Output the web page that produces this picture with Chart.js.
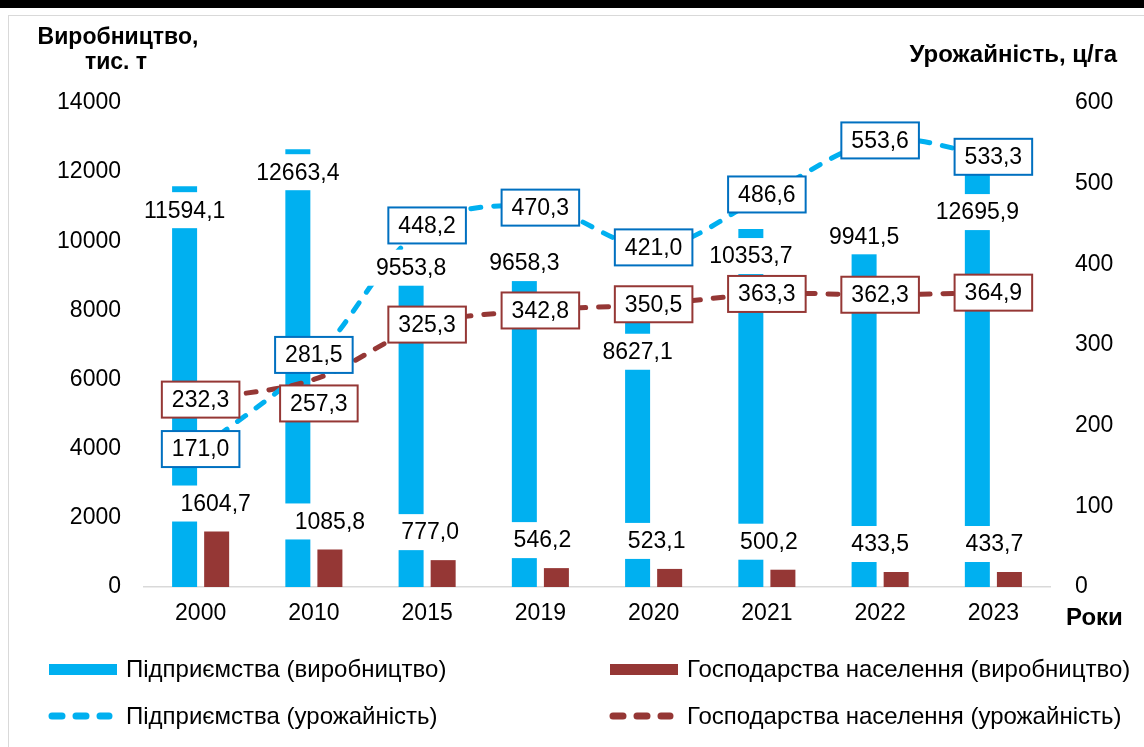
<!DOCTYPE html>
<html>
<head>
<meta charset="utf-8">
<title>Виробництво та урожайність</title>
<script src="https://cdn.jsdelivr.net/npm/chart.js@4.4.1/dist/chart.umd.min.js"></script>
<style>
html, body { margin: 0; padding: 0; background: #fff; }
#wrap { position: relative; width: 1144px; height: 747px; overflow: hidden; }
#topbar { position: absolute; left: 0; top: 0; width: 1144px; height: 8px; background: #000; }
#frame { position: absolute; left: 8px; top: 15px; width: 1300px; height: 900px;
         border-left: 1px solid #d9d9d9; border-top: 1px solid #d9d9d9; }
canvas { position: absolute; left: 0; top: 0; }
</style>
</head>
<body>
<div id="wrap">
  <div id="topbar"></div>
  <div id="frame"></div>
  <canvas id="chart" width="1144" height="747"></canvas>
</div>
<script>
// data
var years = ['2000', '2010', '2015', '2019', '2020', '2021', '2022', '2023'];
var entProduction = [11594.1, 12663.4, 9553.8, 9658.3, 8627.1, 10353.7, 9941.5, 12695.9];
var hhProduction = [1604.7, 1085.8, 777.0, 546.2, 523.1, 500.2, 433.5, 433.7];
var entYield = [171.0, 281.5, 448.2, 470.3, 421.0, 486.6, 553.6, 533.3];
var hhYield = [232.3, 257.3, 325.3, 342.8, 350.5, 363.3, 362.3, 364.9];
var prodTicks = [0, 2000, 4000, 6000, 8000, 10000, 12000, 14000];
var yieldTicks = [0, 100, 200, 300, 400, 500, 600];

// label placement (pixels, moved by hand like in the original)
var entBarLabelDy = [24, 23, 11, 10, 63, 27, -7, 64];
var hhBarLabelDx = [-1, 0, -13, -14, -13, -14, -16, -15];
var entYieldLabelDy = [0, -5, 0, 0, 0, 0, 0, 0];
var hhYieldLabelDx = [0, 5, 0, 0, 0, 0, 0, 0];
var hhYieldLabelDy = [0, 24, 0, 0, 0, 0, 0, 0];

var FONT = '"Liberation Sans", Arial, sans-serif';
var BLUE = '#00B0F0';
var MAROON = '#953735';
var BLUE_BORDER = '#0070C0';

function fmt(v) {
    return v.toFixed(1).replace('.', ',');
}

function drawBoxLabel(ctx, text, x, y, border) {
    ctx.font = '23px ' + FONT;
    var w = ctx.measureText(text).width + 20;
    var h = 36;
    ctx.fillStyle = '#fff';
    ctx.fillRect(x - w / 2, y - h / 2, w, h);
    if (border) {
        ctx.lineWidth = 2;
        ctx.strokeStyle = border;
        ctx.strokeRect(x - w / 2, y - h / 2, w, h);
    }
    ctx.fillStyle = '#000';
    ctx.textAlign = 'center';
    ctx.textBaseline = 'middle';
    ctx.fillText(text, x, y + 1);
}

var labelsPlugin = {
    id: 'valueLabels',
    afterDatasetsDraw: function (chart) {
        var ctx = chart.ctx;
        ctx.save();
        var m0 = chart.getDatasetMeta(0).data;
        var m1 = chart.getDatasetMeta(1).data;
        var m2 = chart.getDatasetMeta(2).data;
        var m3 = chart.getDatasetMeta(3).data;
        m0.forEach(function (el, i) {
            drawBoxLabel(ctx, fmt(entProduction[i]), el.x, el.y + entBarLabelDy[i], null);
        });
        m1.forEach(function (el, i) {
            drawBoxLabel(ctx, fmt(hhProduction[i]), el.x + hhBarLabelDx[i], el.y - 28, null);
        });
        m2.forEach(function (el, i) {
            drawBoxLabel(ctx, fmt(entYield[i]), el.x, el.y + entYieldLabelDy[i], BLUE_BORDER);
        });
        m3.forEach(function (el, i) {
            drawBoxLabel(ctx, fmt(hhYield[i]), el.x + hhYieldLabelDx[i], el.y + hhYieldLabelDy[i], MAROON);
        });
        ctx.restore();
    }
};

var decorPlugin = {
    id: 'decor',
    afterDraw: function (chart) {
        var ctx = chart.ctx;
        var area = chart.chartArea;
        ctx.save();
        ctx.fillStyle = '#000';
        ctx.font = 'bold 23px ' + FONT;
        ctx.textBaseline = 'middle';
        ctx.textAlign = 'center';
        ctx.fillText('Виробництво,', 118, 38);
        ctx.fillText('тис. т', 116, 63);
        ctx.font = 'bold 24px ' + FONT;
        ctx.textAlign = 'right';
        ctx.fillText('Урожайність, ц/га', 1117, 55);
        ctx.textAlign = 'left';
        ctx.fillText('Роки', 1066, area.bottom + 31);

        // legend in two columns
        var cols = [49, 610];
        var rows = [669, 716];
        var ds = chart.data.datasets;
        var slots = [[0, 0], [1, 0], [0, 1], [1, 1]];
        ctx.font = '24px ' + FONT;
        slots.forEach(function (s, i) {
            var x = cols[s[0]], y = rows[s[1]];
            if (ds[i].type === 'line') {
                ctx.strokeStyle = ds[i].borderColor;
                ctx.lineWidth = 7;
                ctx.lineCap = 'round';
                ctx.setLineDash([10, 14]);
                ctx.beginPath();
                ctx.moveTo(x + 3, y);
                ctx.lineTo(x + 60, y);
                ctx.stroke();
                ctx.setLineDash([]);
            } else {
                ctx.fillStyle = ds[i].backgroundColor;
                ctx.fillRect(x, y - 5, 68, 11);
            }
            ctx.fillStyle = '#000';
            ctx.textAlign = 'left';
            ctx.fillText(ds[i].label, x + 77, y + 1);
        });
        ctx.restore();
    }
};

var ctx1 = document.getElementById('chart').getContext('2d');
var chart = new Chart(ctx1, {
    data: {
        labels: years,
        datasets: [{
            type: 'bar',
            label: 'Підприємства (виробництво)',
            data: entProduction,
            yAxisID: 'y',
            backgroundColor: BLUE,
            categoryPercentage: 0.566,
            barPercentage: 0.78,
            order: 2
        }, {
            type: 'bar',
            label: 'Господарства населення (виробництво)',
            data: hhProduction,
            yAxisID: 'y',
            backgroundColor: MAROON,
            categoryPercentage: 0.566,
            barPercentage: 0.78,
            order: 2
        }, {
            type: 'line',
            label: 'Підприємства (урожайність)',
            data: entYield,
            yAxisID: 'y1',
            borderColor: BLUE,
            borderWidth: 5,
            borderDash: [10, 13],
            borderCapStyle: 'round',
            pointRadius: 0,
            tension: 0.35,
            fill: false,
            order: 1
        }, {
            type: 'line',
            label: 'Господарства населення (урожайність)',
            data: hhYield,
            yAxisID: 'y1',
            borderColor: MAROON,
            borderWidth: 5,
            borderDash: [10, 13],
            borderCapStyle: 'round',
            pointRadius: 0,
            tension: 0.35,
            fill: false,
            order: 1
        }]
    },
    options: {
        responsive: false,
        animation: false,
        devicePixelRatio: 1,
        layout: { padding: { top: 103, left: 0, right: 0, bottom: 0 } },
        plugins: {
            legend: { display: false },
            tooltip: { enabled: false }
        },
        scales: {
            x: {
                grid: { display: true, drawOnChartArea: false, drawTicks: false },
                border: { display: true, color: '#d9d9d9', width: 1.5 },
                ticks: { color: '#000', font: { family: FONT, size: 23 }, padding: 13 },
                afterFit: function (s) { s.height = 160; }
            },
            y: {
                position: 'left',
                min: 0,
                max: 14000,
                grid: { display: false },
                border: { display: false },
                afterBuildTicks: function (s) {
                    s.ticks = prodTicks.map(function (v) { return { value: v }; });
                },
                ticks: {
                    color: '#000',
                    font: { family: FONT, size: 23 },
                    padding: 15,
                    callback: function (v) { return String(v); }
                },
                afterFit: function (s) { s.width = 144; }
            },
            y1: {
                position: 'right',
                min: 0,
                max: 600,
                grid: { display: false },
                border: { display: false },
                afterBuildTicks: function (s) {
                    s.ticks = yieldTicks.map(function (v) { return { value: v }; });
                },
                ticks: {
                    color: '#000',
                    font: { family: FONT, size: 23 },
                    padding: 17,
                    callback: function (v) { return String(v); }
                },
                afterFit: function (s) { s.width = 94; }
            }
        }
    },
    plugins: [labelsPlugin, decorPlugin]
});
</script>
</body>
</html>
